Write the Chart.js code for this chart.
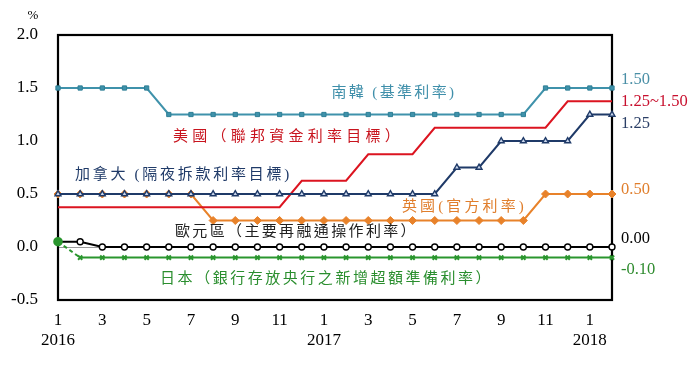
<!DOCTYPE html>
<html><head><meta charset="utf-8">
<script src="https://cdn.jsdelivr.net/npm/chart.js@4/dist/chart.umd.min.js"></script>
<style>html,body{margin:0;padding:0;background:#fff}#wrap{width:697px;height:367px;position:relative}</style>
</head><body><div id="wrap"><canvas id="c" width="697" height="367"></canvas></div>
<script>
// ---- data ----
const months = [1,2,3,4,5,6,7,8,9,10,11,12, 1,2,3,4,5,6,7,8,9,10,11,12, 1,2];
const years  = [2016,2016,2016,2016,2016,2016,2016,2016,2016,2016,2016,2016,
                2017,2017,2017,2017,2017,2017,2017,2017,2017,2017,2017,2017,
                2018,2018];
const yTickValues = [-0.5, 0.0, 0.5, 1.0, 1.5, 2.0];
const korea  = [1.5,1.5,1.5,1.5,1.5, 1.25,1.25,1.25,1.25,1.25,1.25,1.25,1.25,1.25,1.25,1.25,1.25,1.25,1.25,1.25,1.25,1.25, 1.5,1.5,1.5,1.5];
const us     = [0.375,0.375,0.375,0.375,0.375,0.375,0.375,0.375,0.375,0.375,0.375, 0.625,0.625,0.625, 0.875,0.875,0.875, 1.125,1.125,1.125,1.125,1.125,1.125, 1.375,1.375,1.375];
const canada = [0.5,0.5,0.5,0.5,0.5,0.5,0.5,0.5,0.5,0.5,0.5,0.5,0.5,0.5,0.5,0.5,0.5,0.5, 0.75,0.75, 1.0,1.0,1.0,1.0, 1.25,1.25];
const uk     = [0.5,0.5,0.5,0.5,0.5,0.5,0.5, 0.25,0.25,0.25,0.25,0.25,0.25,0.25,0.25,0.25,0.25,0.25,0.25,0.25,0.25,0.25, 0.5,0.5,0.5,0.5];
const euro   = [0.05,0.05, 0,0,0,0,0,0,0,0,0,0,0,0,0,0,0,0,0,0,0,0,0,0,0,0];
const japan  = [0.05, -0.1,-0.1,-0.1,-0.1,-0.1,-0.1,-0.1,-0.1,-0.1,-0.1,-0.1,-0.1,-0.1,-0.1,-0.1,-0.1,-0.1,-0.1,-0.1,-0.1,-0.1,-0.1,-0.1,-0.1,-0.1];
const seriesNames = ['南韓 (基準利率)','美國（聯邦資金利率目標）','加拿大 (隔夜拆款利率目標)','英國(官方利率)','歐元區（主要再融通操作利率）','日本（銀行存放央行之新增超額準備利率）'];
const endLabels = ['1.50','1.25~1.50','1.25','0.50','0.00','-0.10'];
const unitLabel = '%';

// ---- styles ----
const C = {korea:'#3F92AB', us:'#DC1420', canada:'#1F3A68', uk:'#E8822A', euro:'#000000', japan:'#2A962E'};
const SERIF = '"Liberation Serif","Noto Sans CJK TC",serif';

// in-chart label placement (data coords) and target widths
const notes = [
  {i:0, x:15.16, y:1.455, w:125, color:'#3F8FAA'},
  {i:1, x:10.40, y:1.04,  w:231, color:'#C8141E'},
  {i:2, x:5.66,  y:0.68,  w:217, color:'#1F3A68'},
  {i:3, x:18.34, y:0.378, w:125, color:'#E07E2C'},
  {i:4, x:10.76, y:0.142, w:243, color:'#222222'},
  {i:5, x:12.12, y:-0.305,w:333, color:'#2A8E2E'}
];
const endPos = [
  {i:0, y:1.575, color:'#4A8FA6'},
  {i:1, y:1.375, color:'#C8102E'},
  {i:2, y:1.165, color:'#2B3F66'},
  {i:3, y:0.545, color:'#E07E2C'},
  {i:4, y:0.083, color:'#000000'},
  {i:5, y:-0.215,color:'#2E8B2E'}
];

const framePlugin = {
  id:'frame',
  beforeDatasetsDraw(chart){
    const {ctx, chartArea:a} = chart;
    ctx.save();
    ctx.strokeStyle = '#000'; ctx.lineWidth = 2.2;
    ctx.strokeRect(a.left, a.top, a.right - a.left, a.bottom - a.top);
    ctx.restore();
  },
  afterDatasetsDraw(chart){
    const {ctx, chartArea:a, scales:{x, y}} = chart;
    ctx.save();
    ctx.textBaseline = 'middle';
    ctx.textAlign = 'left';
    ctx.font = '15px ' + SERIF;
    for (const n of notes){
      const t = seriesNames[n.i];
      ctx.letterSpacing = '0px';
      const m = ctx.measureText(t).width;
      const chars = [...t].length;
      const ls = Math.max(0, (n.w - m) / chars);
      ctx.letterSpacing = ls.toFixed(2) + 'px';
      ctx.fillStyle = n.color;
      ctx.fillText(t, x.getPixelForValue(n.x) - n.w/2, y.getPixelForValue(n.y));
    }
    ctx.letterSpacing = '0px';
    ctx.font = '16.5px ' + SERIF;
    for (const e of endPos){
      ctx.fillStyle = e.color;
      ctx.fillText(endLabels[e.i], a.right + 9, y.getPixelForValue(e.y));
    }
    ctx.font = '13px ' + SERIF;
    ctx.fillStyle = '#000';
    ctx.textAlign = 'center';
    ctx.fillText(unitLabel, a.left - 25, a.top - 19);
    ctx.restore();
  }
};

const base = {fill:false, tension:0, clip:false, borderWidth:2};
new Chart(document.getElementById('c'), {
  type:'line',
  data:{
    labels: months.map((m,i)=> m + '/' + years[i]),
    datasets:[
      {...base, data:us, borderColor:C.us, pointRadius:0, order:5},
      {...base, data:uk, borderColor:C.uk, backgroundColor:C.uk, pointStyle:'rectRot', pointRadius:4, pointBorderWidth:1, order:6},
      {...base, data:canada, borderColor:C.canada, pointBackgroundColor:'#C9D6EC', pointBorderColor:C.canada, pointStyle:'triangle', pointRadius:3.4, pointBorderWidth:1.4, order:4},
      {...base, data:korea, borderColor:C.korea, pointBackgroundColor:C.korea, pointBorderColor:'#2F7F96', pointStyle:'rect', pointRadius:3, pointBorderWidth:1, order:3},
      {...base, data:euro, borderColor:C.euro, pointBackgroundColor:'#ffffff', pointBorderColor:'#000', pointStyle:'circle', pointRadius:3, pointBorderWidth:1.4, order:2},
      {...base, data:japan, borderColor:C.japan, pointBackgroundColor:C.japan, pointBorderColor:C.japan,
        pointStyle: ctx => ctx.dataIndex === 0 ? 'circle' : 'crossRot',
        pointRadius: ctx => ctx.dataIndex === 0 ? 3.8 : 3, pointBorderWidth:2, order:1,
        segment:{borderDash: ctx => ctx.p0DataIndex === 0 ? [4,3] : undefined}}
    ]
  },
  options:{
    responsive:false, animation:false, devicePixelRatio:1,
    layout:{padding:{top:35, right:85, left:0, bottom:0}},
    plugins:{legend:{display:false}, tooltip:{enabled:false}},
    events:[],
    scales:{
      x:{
        type:'category', offset:false,
        grid:{display:false, drawTicks:false},
        border:{display:false},
        afterFit: s => { s.height = 67; },
        ticks:{
          autoSkip:false, maxRotation:0, padding:11, color:'#000',
          font:{family:SERIF, size:17, lineHeight:1.15},
          callback:(v,i)=>{
            const m = months[i];
            if (m % 2 === 0) return '';
            return m === 1 ? [String(m), String(years[i])] : String(m);
          }
        }
      },
      y:{
        min:-0.5, max:2.0,
        afterBuildTicks: s => { s.ticks = yTickValues.map(v=>({value:v})); },
        afterFit: s => { s.width = 58; },
        grid:{drawTicks:false, color: c => (c.tick && c.tick.value === 0) ? '#9a9a9a' : 'rgba(0,0,0,0)', lineWidth:1},
        border:{display:false},
        ticks:{padding:20, color:'#000', font:{family:SERIF, size:17}, callback:v=>v.toFixed(1)}
      }
    }
  },
  plugins:[framePlugin]
});
</script></body></html>
